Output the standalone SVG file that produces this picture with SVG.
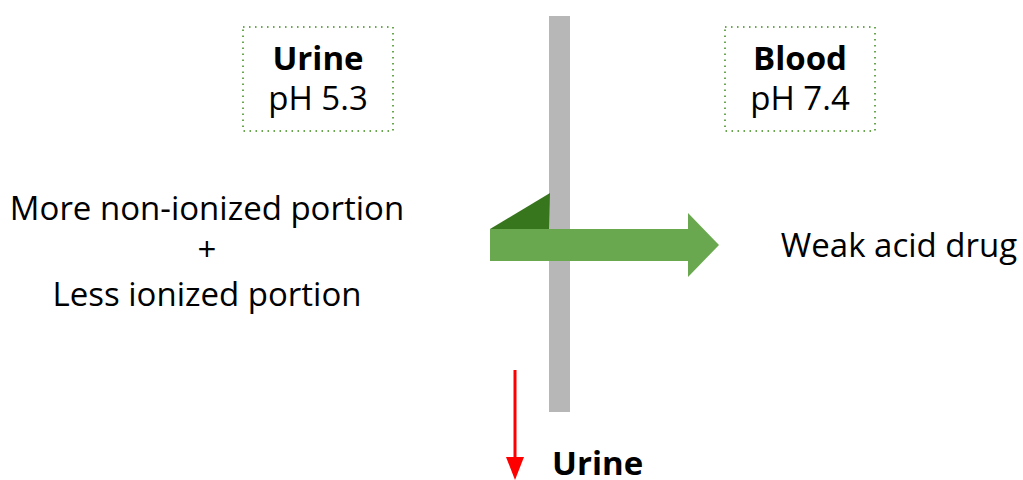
<svg xmlns="http://www.w3.org/2000/svg" width="1023" height="480" viewBox="0 0 1023 480">
<style>
.t{font-family:"Open Sans","Noto Sans",sans-serif;font-size:33px;fill:#000;text-anchor:middle}
.b{font-weight:bold}
.box{fill:none;stroke:#6aa84f;stroke-width:2;stroke-dasharray:1.5 4.5}
</style>
<rect width="1023" height="480" fill="#fff"/>
<g id="membrane"><rect x="549" y="16" width="21" height="396" fill="#b7b7b7"/></g>
<g id="urine-box">
<rect class="box" x="243" y="27" width="150" height="104"/>
<text class="t b" x="318" y="70">Urine</text>
<text class="t" x="318" y="110">pH 5.3</text>
</g>
<g id="blood-box">
<rect class="box" x="725" y="27" width="150" height="104"/>
<text class="t b" x="800" y="70">Blood</text>
<text class="t" x="800" y="110">pH 7.4</text>
</g>
<g id="left-text">
<text class="t" x="207" y="220">More non-ionized portion</text>
<text class="t" x="207" y="261">+</text>
<text class="t" x="207" y="306">Less ionized portion</text>
</g>
<g id="drug"><text class="t" x="899" y="257">Weak acid drug</text></g>
<g id="bottom-urine"><text class="t b" x="552" y="475" style="text-anchor:start">Urine</text></g>
<g id="connectors">
<polygon points="490,229 550,193 549,229" fill="#38761d"/>
<polygon points="490,229 688,229 688,213 719,245 688,277 688,261 490,261" fill="#6aa84f"/>
<line x1="515" y1="370" x2="515" y2="458" stroke="#ff0000" stroke-width="3"/>
<polygon points="506,457 524,457 515,480" fill="#ff0000"/>
</g>
</svg>
